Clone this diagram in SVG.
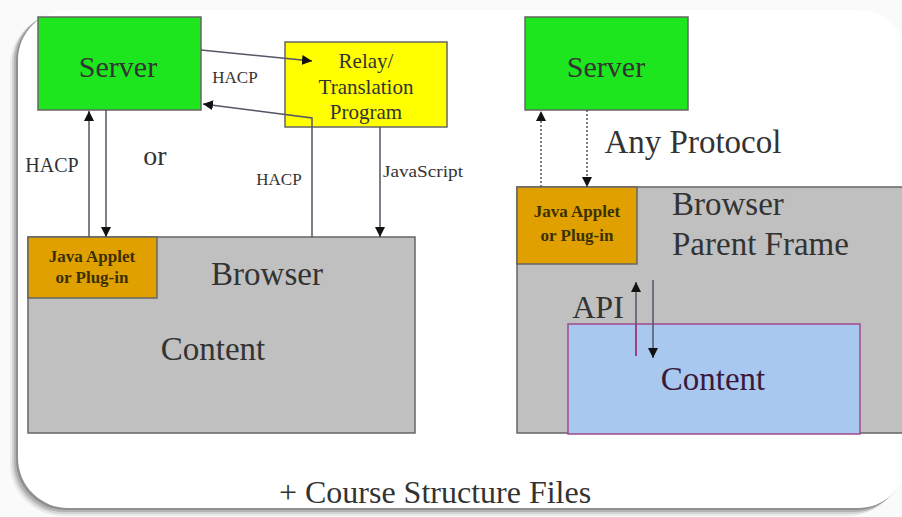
<svg xmlns="http://www.w3.org/2000/svg" width="902" height="517" viewBox="0 0 902 517">
<defs>
<marker id="ah" viewBox="0 0 10 10" refX="10" refY="5" markerWidth="10" markerHeight="10" markerUnits="userSpaceOnUse" orient="auto">
<path d="M0,0 L10,5 L0,10 Z" fill="#111"/>
</marker>
</defs>
<rect width="902" height="517" fill="#fafafa"/>
<rect x="10" y="14" width="890" height="502" rx="52" fill="#000" opacity="0.06"/>
<rect x="12" y="13" width="890" height="501" rx="51" fill="#000" opacity="0.1"/>
<rect x="14" y="12" width="890" height="500" rx="50" fill="#000" opacity="0.15"/>
<rect x="16" y="11" width="890" height="499" rx="50" fill="#000" opacity="0.2"/>
<rect x="18" y="10" width="890" height="498" rx="50" fill="#fff"/>
<g id="server-left">
<rect x="38" y="17" width="163" height="93" fill="#1ee61e" stroke="#666" stroke-width="1.5"/>
<text font-family="Liberation Serif, Times New Roman, serif" fill="#333" text-anchor="middle" x="118" y="77" font-size="30">Server</text>
</g>
<g id="relay">
<rect x="285" y="42" width="162" height="85" fill="#ffff00" stroke="#666" stroke-width="1.5"/>
<text font-family="Liberation Serif, Times New Roman, serif" fill="#333" text-anchor="middle" x="366" y="68" font-size="21">Relay/</text>
<text font-family="Liberation Serif, Times New Roman, serif" fill="#333" text-anchor="middle" x="366" y="94" font-size="21">Translation</text>
<text font-family="Liberation Serif, Times New Roman, serif" fill="#333" text-anchor="middle" x="366" y="119" font-size="21">Program</text>
</g>
<g id="browser-left">
<rect x="28" y="237" width="387" height="196" fill="#c0c0c0" stroke="#666" stroke-width="1.5"/>
<text font-family="Liberation Serif, Times New Roman, serif" fill="#333" text-anchor="middle" x="267" y="285" font-size="33">Browser</text>
<text font-family="Liberation Serif, Times New Roman, serif" fill="#333" text-anchor="middle" x="213" y="360" font-size="33">Content</text>
</g>
<g id="applet-left">
<rect x="28" y="237" width="129" height="61" fill="#e0a000" stroke="#666" stroke-width="1.5"/>
<text font-family="Liberation Serif, Times New Roman, serif" font-weight="bold" font-size="17" fill="#3a3000" text-anchor="middle" x="92" y="262">Java Applet</text>
<text font-family="Liberation Serif, Times New Roman, serif" font-weight="bold" font-size="17" fill="#3a3000" text-anchor="middle" x="92" y="283">or Plug-in</text>
</g>
<g id="server-right">
<rect x="525" y="17" width="163" height="93" fill="#1ee61e" stroke="#666" stroke-width="1.5"/>
<text font-family="Liberation Serif, Times New Roman, serif" fill="#333" text-anchor="middle" x="606" y="77" font-size="30">Server</text>
</g>
<g id="browser-right">
<rect x="517" y="187" width="400" height="246" fill="#c0c0c0" stroke="#666" stroke-width="1.5"/>
<text font-family="Liberation Serif, Times New Roman, serif" fill="#333" x="672" y="215" font-size="33">Browser</text>
<text font-family="Liberation Serif, Times New Roman, serif" fill="#333" x="672" y="255" font-size="33">Parent Frame</text>
</g>
<g id="applet-right">
<rect x="517" y="187" width="120" height="77" fill="#e0a000" stroke="#666" stroke-width="1.5"/>
<text font-family="Liberation Serif, Times New Roman, serif" font-weight="bold" font-size="17" fill="#3a3000" text-anchor="middle" x="577" y="217">Java Applet</text>
<text font-family="Liberation Serif, Times New Roman, serif" font-weight="bold" font-size="17" fill="#3a3000" text-anchor="middle" x="577" y="241">or Plug-in</text>
</g>
<g id="content-right">
<rect x="568" y="324" width="292" height="110" fill="#a8c8f0" stroke="#a04a88" stroke-width="1.5"/>
<text font-family="Liberation Serif, Times New Roman, serif" fill="#3a1a3a" text-anchor="middle" x="713" y="390" font-size="33">Content</text>
</g>
<g id="connectors" fill="none" stroke="#556" stroke-width="1.5">
<path d="M201,50 L312,61" marker-end="url(#ah)"/>
<path d="M312,237 L312,118 L203,104" marker-end="url(#ah)"/>
<path d="M89,237 L89,111" marker-end="url(#ah)"/>
<path d="M106,110 L106,237" marker-end="url(#ah)"/>
<path d="M380,127 L380,237" marker-end="url(#ah)"/>
<path d="M541,187 L541,111" stroke-dasharray="2 2" marker-end="url(#ah)"/>
<path d="M587,110 L587,187" stroke-dasharray="2 2" marker-end="url(#ah)"/>
<path d="M636,356 L636,324" stroke="#a04080" stroke-width="2"/>
<path d="M636,324 L636,282" marker-end="url(#ah)"/>
<path d="M653,280 L653,358" marker-end="url(#ah)"/>
</g>
<g id="labels">
<text font-family="Liberation Serif, Times New Roman, serif" fill="#333" text-anchor="middle" x="235" y="83" font-size="17">HACP</text>
<text font-family="Liberation Serif, Times New Roman, serif" fill="#333" text-anchor="middle" x="279" y="185" font-size="17">HACP</text>
<text font-family="Liberation Serif, Times New Roman, serif" fill="#333" text-anchor="middle" x="52" y="172" font-size="20">HACP</text>
<text font-family="Liberation Serif, Times New Roman, serif" fill="#333" text-anchor="middle" x="155" y="165" font-size="28">or</text>
<text font-family="Liberation Serif, Times New Roman, serif" fill="#333" text-anchor="middle" x="423" y="177" font-size="17" textLength="80" lengthAdjust="spacingAndGlyphs">JavaScript</text>
<text font-family="Liberation Serif, Times New Roman, serif" fill="#333" text-anchor="middle" x="693" y="153" font-size="33">Any Protocol</text>
<text font-family="Liberation Serif, Times New Roman, serif" fill="#333" text-anchor="middle" x="598" y="318" font-size="32">API</text>
<text font-family="Liberation Serif, Times New Roman, serif" fill="#333" text-anchor="middle" x="435" y="503" font-size="32">+ Course Structure Files</text>
</g>
</svg>
